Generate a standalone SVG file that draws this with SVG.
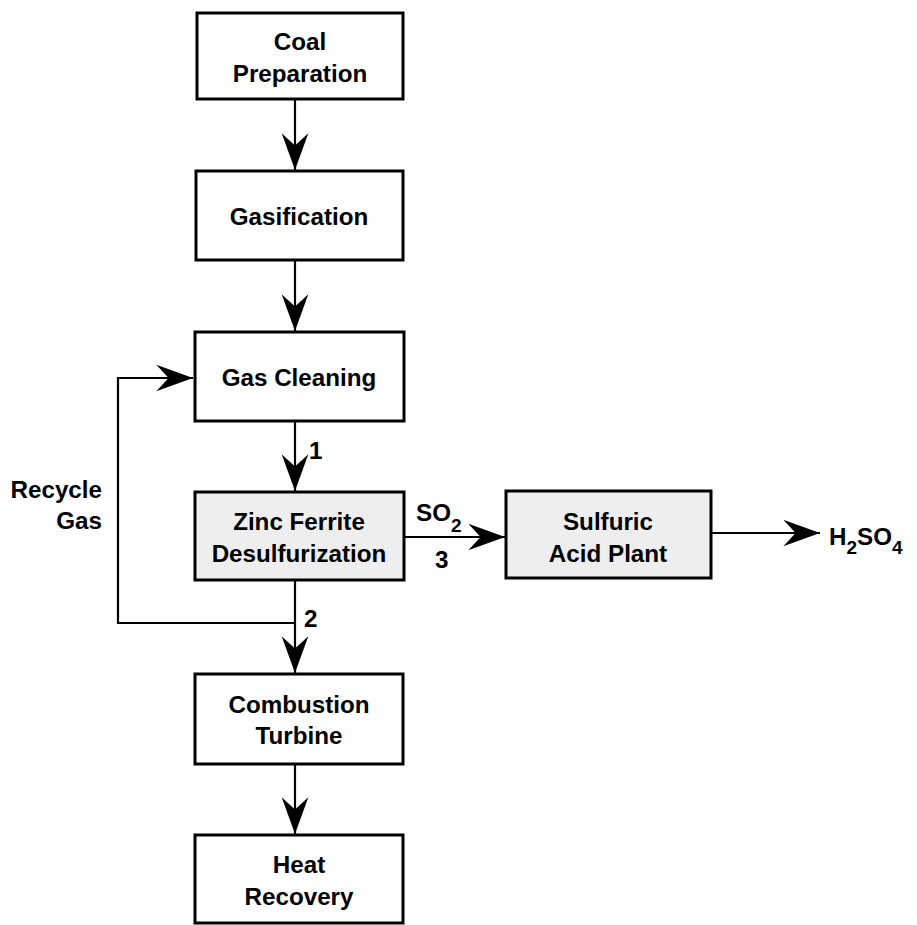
<svg xmlns="http://www.w3.org/2000/svg" width="917" height="925" viewBox="0 0 917 925">
<style>
.box{fill:#ffffff;stroke:#000;stroke-width:3}
.shade{fill:#eeeeee;stroke:#000;stroke-width:3}
.t{font-family:"Liberation Sans",Arial,Helvetica,sans-serif;font-weight:bold;font-size:24.2px;fill:#000;text-anchor:middle}
.l{font-family:"Liberation Sans",Arial,Helvetica,sans-serif;font-weight:bold;font-size:24.2px;fill:#000}
.c{fill:none;stroke:#000;stroke-width:2.2}
.a{fill:none;stroke:#000;stroke-width:2.2;marker-end:url(#ah)}
</style>
<defs>
<marker id="ah" markerUnits="userSpaceOnUse" markerWidth="40" markerHeight="30" viewBox="-34 -13 36 26" refX="0" refY="0" orient="auto">
<path d="M0,0 L-33,-12 L-22,0 L-33,12 Z" fill="#000"/>
</marker>
</defs>
<rect width="917" height="925" fill="#fff"/>
<g id="connectors">
<line class="a" x1="295" y1="99" x2="295" y2="170"/>
<line class="a" x1="295" y1="260" x2="295" y2="331"/>
<line class="a" x1="295" y1="421" x2="295" y2="491"/>
<line class="a" x1="295" y1="580" x2="295" y2="673"/>
<line class="a" x1="295" y1="764" x2="295" y2="834"/>
<polyline class="a" points="295,623 118,623 118,378 193,378"/>
<line class="a" x1="404" y1="537" x2="505" y2="537"/>
<line class="a" x1="711" y1="533" x2="820" y2="533"/>
</g>
<g id="coal-preparation">
<rect class="box" x="197" y="13" width="206" height="86"/>
<text class="t" x="300" y="50">Coal</text>
<text class="t" x="300" y="82">Preparation</text>
</g>
<g id="gasification">
<rect class="box" x="196" y="171" width="207" height="89"/>
<text class="t" x="299" y="225">Gasification</text>
</g>
<g id="gas-cleaning">
<rect class="box" x="195" y="332" width="209" height="89"/>
<text class="t" x="299" y="386">Gas Cleaning</text>
</g>
<g id="zinc-ferrite">
<rect class="shade" x="195" y="492" width="209" height="88"/>
<text class="t" x="299" y="530">Zinc Ferrite</text>
<text class="t" x="299" y="562">Desulfurization</text>
</g>
<g id="sulfuric-acid-plant">
<rect class="shade" x="506" y="491" width="205" height="87"/>
<text class="t" x="608" y="530">Sulfuric</text>
<text class="t" x="608" y="562">Acid Plant</text>
</g>
<g id="combustion-turbine">
<rect class="box" x="195" y="674" width="208" height="90"/>
<text class="t" x="299" y="713">Combustion</text>
<text class="t" x="299" y="744">Turbine</text>
</g>
<g id="heat-recovery">
<rect class="box" x="195" y="835" width="208" height="88"/>
<text class="t" x="299" y="873">Heat</text>
<text class="t" x="299" y="905">Recovery</text>
</g>
<g id="labels">
<text class="l" x="102" y="498" text-anchor="end">Recycle</text>
<text class="l" x="102" y="529" text-anchor="end">Gas</text>
<text class="l" x="309" y="459" font-size="18">1</text>
<text class="l" x="304" y="627" font-size="18">2</text>
<text class="l" x="435" y="568" font-size="18">3</text>
<text class="l" x="416" y="521">SO<tspan font-size="19" dy="11">2</tspan></text>
<text class="l" x="829" y="545">H<tspan font-size="19" dy="9">2</tspan><tspan dy="-9">SO</tspan><tspan font-size="19" dy="9">4</tspan></text>
</g>
</svg>
